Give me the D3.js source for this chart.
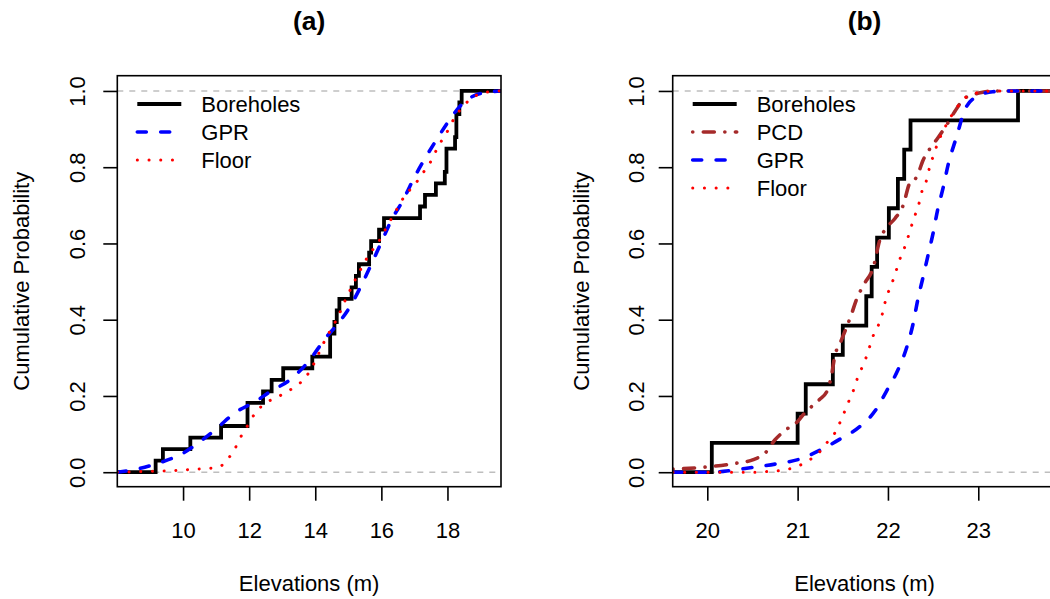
<!DOCTYPE html>
<html>
<head>
<meta charset="utf-8">
<script src="https://cdn.jsdelivr.net/npm/d3@7"></script>
<style>
  body { margin: 0; background: #fff; }
  svg { display: block; font-family: "Liberation Sans", Arial, sans-serif; }
</style>
</head>
<body>
<svg id="canvas" width="1050" height="599"></svg>
<script>
// ---- data ----

// Panel (a): borehole elevations (ECDF steps, n = 33)
var BOREHOLES_A = [9.17, 9.39, 10.22, 11.15, 11.95, 11.95, 12.42, 12.68, 13.03, 13.91,
  14.45, 14.45, 14.58, 14.65, 14.73, 15.10, 15.23, 15.32, 15.63, 15.69, 15.93, 16.08,
  17.17, 17.32, 17.65, 17.92, 17.97, 17.97, 18.23, 18.27, 18.27, 18.36, 18.43];

// Panel (a): smooth CDFs, [elevation, probability]
var GPR_A = [[8.01, 0.0], [8.6, 0.008], [9.3, 0.025], [9.96, 0.048], [10.51, 0.08],
  [11.02, 0.115], [11.57, 0.156], [12.18, 0.185], [12.63, 0.211], [13.29, 0.246],
  [13.79, 0.29], [14.35, 0.356], [14.70, 0.391], [15.05, 0.434], [15.40, 0.491],
  [15.71, 0.548], [16.01, 0.605], [16.31, 0.662], [16.66, 0.714], [16.96, 0.767],
  [17.32, 0.823], [17.67, 0.872], [18.02, 0.919], [18.47, 0.968], [19.03, 0.994],
  [19.62, 1.0]];

var FLOOR_A = [[8.01, 0.0], [9.3, 0.003], [9.69, 0.004], [10.03, 0.006], [10.39, 0.008],
  [10.75, 0.01], [11.1, 0.014], [11.34, 0.034], [11.55, 0.058], [11.70, 0.086],
  [11.88, 0.111], [12.06, 0.139], [12.26, 0.163], [12.51, 0.182], [12.83, 0.196],
  [13.14, 0.211], [13.42, 0.226], [13.70, 0.248], [14.04, 0.299], [14.19, 0.328],
  [14.51, 0.38], [14.68, 0.406], [14.82, 0.434], [14.97, 0.463], [15.12, 0.489],
  [15.28, 0.517], [15.45, 0.544], [15.62, 0.57], [15.86, 0.597], [16.03, 0.621],
  [16.18, 0.647], [16.36, 0.673], [16.54, 0.701], [16.71, 0.725], [16.95, 0.749],
  [17.17, 0.773], [17.35, 0.797], [17.55, 0.823], [17.69, 0.85], [17.87, 0.876],
  [18.05, 0.902], [18.20, 0.928], [18.43, 0.955], [18.66, 0.976], [18.96, 0.992],
  [19.28, 0.998], [19.62, 1.0]];

// Panel (b): borehole elevations (ECDF steps, n = 13)
var BOREHOLES_B = [20.05, 21.0, 21.09, 21.39, 21.50, 21.76, 21.82, 21.88, 22.01,
  22.11, 22.18, 22.25, 23.44];

var PCD_B = [[19.62, 0.008], [20.0, 0.014], [20.33, 0.024], [20.51, 0.033],
  [20.64, 0.05], [20.75, 0.085], [20.88, 0.113], [21.0, 0.133], [21.08, 0.156],
  [21.24, 0.19], [21.33, 0.215], [21.38, 0.26], [21.41, 0.303], [21.47, 0.338],
  [21.60, 0.417], [21.65, 0.452], [21.73, 0.491], [21.84, 0.539], [21.91, 0.609],
  [21.98, 0.64], [22.08, 0.666], [22.17, 0.701], [22.24, 0.758], [22.32, 0.775],
  [22.39, 0.819], [22.46, 0.847], [22.55, 0.876], [22.65, 0.911], [22.74, 0.946],
  [22.85, 0.981], [23.02, 0.995], [23.16, 1.0], [23.87, 1.0]];

var GPR_B = [[19.62, 0.0], [20.05, 0.0], [20.21, 0.003], [20.51, 0.013], [20.77, 0.022],
  [21.03, 0.035], [21.25, 0.058], [21.47, 0.087], [21.69, 0.12], [21.87, 0.165],
  [21.98, 0.211], [22.11, 0.268], [22.21, 0.329], [22.28, 0.391], [22.33, 0.452],
  [22.39, 0.513], [22.44, 0.565], [22.50, 0.627], [22.55, 0.688], [22.61, 0.745],
  [22.67, 0.81], [22.76, 0.88], [22.85, 0.95], [22.98, 0.985], [23.16, 0.998],
  [23.35, 1.0], [23.87, 1.0]];

var FLOOR_B = [[19.62, 0.0], [20.6, 0.0], [20.67, 0.002], [20.80, 0.004], [20.93, 0.01],
  [21.04, 0.02], [21.15, 0.035], [21.25, 0.055], [21.33, 0.079], [21.41, 0.102],
  [21.47, 0.131], [21.52, 0.159], [21.57, 0.188], [21.62, 0.216], [21.66, 0.245],
  [21.71, 0.273], [21.76, 0.302], [21.80, 0.331], [21.84, 0.36], [21.90, 0.389],
  [21.94, 0.417], [21.97, 0.447], [22.01, 0.476], [22.06, 0.506], [22.10, 0.535],
  [22.14, 0.564], [22.19, 0.593], [22.23, 0.622], [22.27, 0.653], [22.31, 0.681],
  [22.35, 0.71], [22.38, 0.74], [22.43, 0.768], [22.46, 0.799], [22.50, 0.828],
  [22.54, 0.856], [22.59, 0.885], [22.65, 0.913], [22.75, 0.952], [22.85, 0.981],
  [22.96, 0.994], [23.20, 1.0], [23.87, 1.0]];

// Axis ticks
var X_TICKS_A = [10, 12, 14, 16, 18];
var X_TICKS_B = [20, 21, 22, 23];
var Y_TICKS = [0, 0.2, 0.4, 0.6, 0.8, 1.0];

// Line styles per series
var STYLES = {
  'Boreholes': { color: '#000000', width: 3.8, dash: null, cap: 'butt' },
  'PCD': { color: '#A52A2A', width: 3.6, dash: '0.1,10.5,11,10.5', cap: 'round' },
  'GPR': { color: '#0000FF', width: 3.6, dash: '9,14.4', cap: 'round' },
  'Floor': { color: '#FF0000', width: 3.0, dash: '0.1,11.6', cap: 'round' }
};

var canvas = d3.select('#canvas');
var FONT = 22;

/**
 * Draws one panel of the figure.
 */
function drawPanel(cfg) {
  var x = d3.scaleLinear().domain(cfg.xDomain).range([cfg.left, cfg.left + cfg.width]);
  var y = d3.scaleLinear().domain([-0.038, 1.040]).range([cfg.top + cfg.height, cfg.top]);

  var g = canvas.append('g');

  // Clip curves to plot region
  g.append('clipPath').attr('id', 'clip-' + cfg.id)
    .append('rect')
    .attr('x', cfg.left).attr('y', cfg.top)
    .attr('width', cfg.width).attr('height', cfg.height);

  var plot = g.append('g').attr('clip-path', 'url(#clip-' + cfg.id + ')');

  // Reference lines at 0 and 1
  [0, 1].forEach(function (v) {
    plot.append('line')
      .attr('x1', cfg.left).attr('x2', cfg.left + cfg.width)
      .attr('y1', y(v)).attr('y2', y(v))
      .attr('stroke', '#BEBEBE').attr('stroke-width', 1.4)
      .attr('stroke-dasharray', '6,6');
  });

  // Borehole ECDF as a step line
  var sorted = cfg.bore.slice().sort(d3.ascending);
  var n = sorted.length;
  var stepPts = [[cfg.xDomain[0], 0]];
  sorted.forEach(function (v, i) { stepPts.push([v, (i + 1) / n]); });
  stepPts.push([cfg.xDomain[1], 1]);

  var stepLine = d3.line()
    .x(function (d) { return x(d[0]); })
    .y(function (d) { return y(d[1]); })
    .curve(d3.curveStepAfter);

  var smoothLine = d3.line()
    .x(function (d) { return x(d[0]); })
    .y(function (d) { return y(d[1]); })
    .curve(d3.curveMonotoneX);

  function styled(sel, name) {
    var s = STYLES[name];
    sel.attr('fill', 'none')
      .attr('stroke', s.color)
      .attr('stroke-width', s.width)
      .attr('stroke-linecap', s.cap)
      .attr('stroke-linejoin', 'round');
    if (s.dash) sel.attr('stroke-dasharray', s.dash);
    return sel;
  }

  styled(plot.append('path').attr('d', stepLine(stepPts)), 'Boreholes')
    .attr('stroke-linejoin', 'miter');

  cfg.curves.forEach(function (c) {
    styled(plot.append('path').attr('d', smoothLine(c.data)), c.name);
  });

  // Box
  g.append('rect')
    .attr('x', cfg.left).attr('y', cfg.top)
    .attr('width', cfg.width).attr('height', cfg.height)
    .attr('fill', 'none').attr('stroke', '#000').attr('stroke-width', 1.6);

  // X axis
  var xAxis = g.append('g')
    .attr('transform', 'translate(0,' + (cfg.top + cfg.height) + ')')
    .call(d3.axisBottom(x).tickValues(cfg.xTicks).tickSize(14).tickFormat(d3.format('d')));
  xAxis.select('.domain').remove();
  xAxis.selectAll('line').attr('stroke', '#000').attr('stroke-width', 1.6);
  xAxis.selectAll('text')
    .attr('y', 51.5).attr('dy', null)
    .attr('fill', '#000').style('font-size', FONT + 'px')
    .style('font-family', '"Liberation Sans", Arial, sans-serif');

  // Y axis (labels rotated like R's default)
  var yAxis = g.append('g')
    .attr('transform', 'translate(' + cfg.left + ',0)')
    .call(d3.axisLeft(y).tickValues(Y_TICKS).tickSize(14).tickFormat(d3.format('.1f')));
  yAxis.select('.domain').remove();
  yAxis.selectAll('line').attr('stroke', '#000').attr('stroke-width', 1.6);
  yAxis.selectAll('text')
    .attr('x', null).attr('dy', null)
    .attr('text-anchor', 'middle')
    .attr('transform', 'translate(' + cfg.yLabelOff + ',0) rotate(-90)')
    .attr('fill', '#000').style('font-size', FONT + 'px')
    .style('font-family', '"Liberation Sans", Arial, sans-serif');

  // Axis titles
  var cx = cfg.left + cfg.width / 2;
  var cy = cfg.top + cfg.height / 2;
  g.append('text')
    .attr('x', cx).attr('y', 591)
    .attr('text-anchor', 'middle')
    .style('font-size', FONT + 'px')
    .text('Elevations (m)');

  g.append('text')
    .attr('transform', 'translate(' + (cfg.left + cfg.yTitleOff) + ',' + cy + ') rotate(-90)')
    .attr('text-anchor', 'middle')
    .style('font-size', FONT + 'px')
    .text('Cumulative Probability');

  // Panel title
  g.append('text')
    .attr('x', cx).attr('y', 30)
    .attr('text-anchor', 'middle')
    .style('font-size', '26.4px')
    .style('font-weight', 'bold')
    .text(cfg.title);

  // Legend (no box)
  var legend = g.append('g');
  cfg.legend.forEach(function (name, i) {
    var ly = 104 + i * 28;
    styled(legend.append('line')
      .attr('x1', cfg.left + 20).attr('x2', cfg.left + 64)
      .attr('y1', ly).attr('y2', ly), name);
    legend.append('text')
      .attr('x', cfg.left + 84).attr('y', ly + 8)
      .style('font-size', FONT + 'px')
      .text(name);
  });
}

drawPanel({
  id: 'a', title: '(a)',
  left: 117.3, top: 75.7, width: 383.7, height: 411,
  xDomain: [8.01, 19.62], xTicks: X_TICKS_A,
  yLabelOff: -32, yTitleOff: -88,
  bore: BOREHOLES_A,
  curves: [{ name: 'GPR', data: GPR_A }, { name: 'Floor', data: FLOOR_A }],
  legend: ['Boreholes', 'GPR', 'Floor']
});

drawPanel({
  id: 'b', title: '(b)',
  left: 672.7, top: 75.7, width: 383.7, height: 411,
  xDomain: [19.617, 23.865], xTicks: X_TICKS_B,
  yLabelOff: -28.5, yTitleOff: -84,
  bore: BOREHOLES_B,
  curves: [{ name: 'PCD', data: PCD_B }, { name: 'GPR', data: GPR_B }, { name: 'Floor', data: FLOOR_B }],
  legend: ['Boreholes', 'PCD', 'GPR', 'Floor']
});
</script>
</body>
</html>
